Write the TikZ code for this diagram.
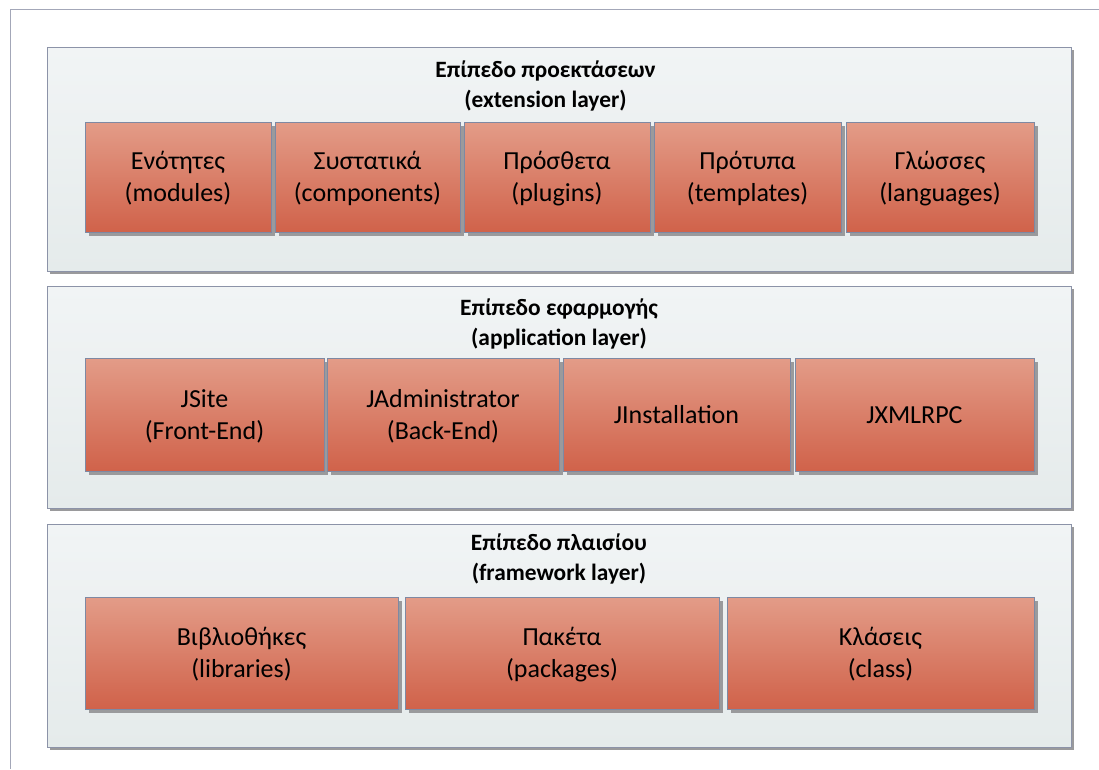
\documentclass[tikz,border=0pt]{standalone}
\usepackage{fontspec}
\setmainfont{Carlito}
\usetikzlibrary{shadows}
\definecolor{frameline}{HTML}{A3A7B8}
\definecolor{layerborder}{HTML}{8C93A8}
\definecolor{layertop}{HTML}{F1F4F5}
\definecolor{layerbot}{HTML}{E5EBEB}
\definecolor{boxborder}{HTML}{7E89A3}
\definecolor{boxtop}{HTML}{E39C88}
\definecolor{boxbot}{HTML}{D0624A}
\definecolor{shadowgray}{HTML}{9A9A9C}
\newcommand{\sline}[1]{\strut#1}
\newcommand{\bline}[1]{\rule[-7.1pt]{0pt}{32pt}#1}
\begin{document}
\begin{tikzpicture}[x=1pt,y=-1pt,
  layerbox/.style={draw=layerborder, line width=1pt, rectangle, inner sep=0pt,
    top color=layertop, bottom color=layerbot,
    drop shadow={shadow xshift=3pt, shadow yshift=-3pt, opacity=1, fill=shadowgray}},
  compbox/.style={draw=boxborder, line width=1pt, rectangle, inner sep=0pt,
    top color=boxtop, bottom color=boxbot, align=center,
    font=\fontsize{26}{32}\selectfont,
    drop shadow={shadow xshift=3.5pt, shadow yshift=-3.5pt, opacity=1, fill=shadowgray}},
  title/.style={align=center, inner sep=0pt, font=\fontsize{23.4}{30}\selectfont\bfseries}
]
\useasboundingbox (0,0) rectangle (1099,769);
\fill[white] (0,0) rectangle (1099,769);
\draw[frameline, line width=1.2pt] (1099,9.5) -- (10.5,9.5) -- (10.5,769);

% layers
\node[layerbox, minimum width=1024pt, minimum height=224pt] (L1) at (559,159) {};
\node[layerbox, minimum width=1024pt, minimum height=222pt] (L2) at (559,397) {};
\node[layerbox, minimum width=1024pt, minimum height=223pt] (L3) at (559,635.5) {};

% titles
\node[title] (T1) at (545.5,86) {\sline{Επίπεδο προεκτάσεων}\\\sline{(extension layer)}};
\node[title] (T2) at (559,324.5) {\sline{Επίπεδο εφαρμογής}\\\sline{(application layer)}};
\node[title] (T3) at (559,559) {\sline{Επίπεδο πλαισίου}\\\sline{(framework layer)}};

% extension layer
\node[compbox, minimum width=186pt, minimum height=110pt] (mod) at (178,177) {\bline{Ενότητες}\\\bline{(modules)}};
\node[compbox, minimum width=185pt, minimum height=110pt] (com) at (367.5,177) {\bline{Συστατικά}\\\bline{(components)}};
\node[compbox, minimum width=186pt, minimum height=110pt] (plu) at (557,177) {\bline{Πρόσθετα}\\\bline{(plugins)}};
\node[compbox, minimum width=187pt, minimum height=110pt] (tem) at (747.5,177) {\bline{Πρότυπα}\\\bline{(templates)}};
\node[compbox, minimum width=188pt, minimum height=110pt] (lan) at (940,177) {\bline{Γλώσσες}\\\bline{(languages)}};

% application layer
\node[compbox, minimum width=239pt, minimum height=113pt] (site) at (204.5,414.5) {\bline{JSite}\\\bline{(Front-End)}};
\node[compbox, minimum width=232pt, minimum height=113pt] (adm) at (443,414.5) {\bline{JAdministrator}\\\bline{(Back-End)}};
\node[compbox, minimum width=227pt, minimum height=113pt] (ins) at (676.5,414.5) {\bline{JInstallation}};
\node[compbox, minimum width=239pt, minimum height=113pt] (xml) at (914.5,414.5) {\bline{JXMLRPC}};

% framework layer
\node[compbox, minimum width=313pt, minimum height=112pt] (lib) at (241.5,653) {\bline{Βιβλιοθήκες}\\\bline{(libraries)}};
\node[compbox, minimum width=314pt, minimum height=112pt] (pac) at (562,653) {\bline{Πακέτα}\\\bline{(packages)}};
\node[compbox, minimum width=307pt, minimum height=112pt] (cla) at (880.5,653) {\bline{Κλάσεις}\\\bline{(class)}};
\end{tikzpicture}
\end{document}
